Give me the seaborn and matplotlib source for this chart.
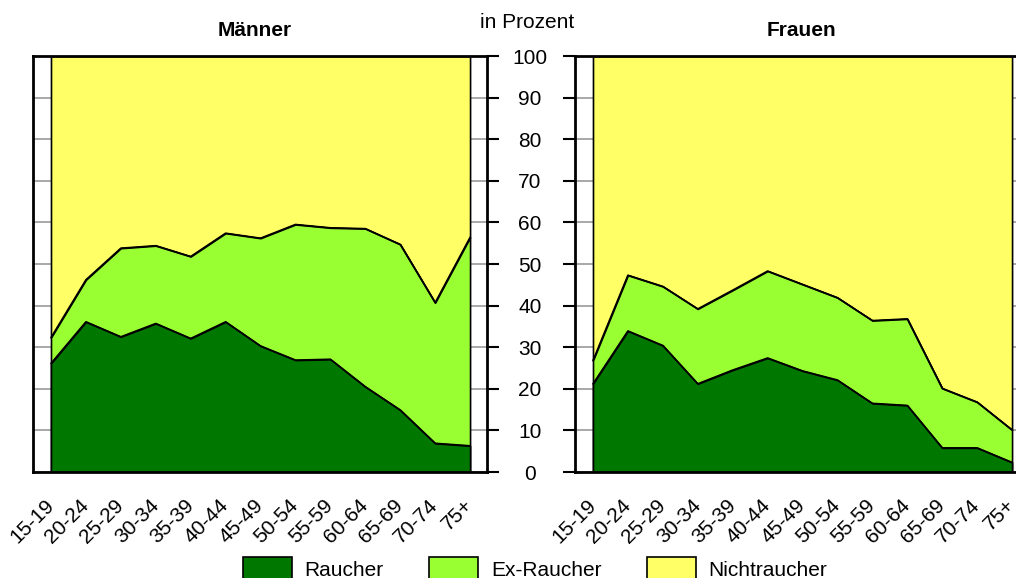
import numpy as np
import pandas as pd
import matplotlib
matplotlib.use("Agg")
import matplotlib.pyplot as plt
from matplotlib.patches import Patch
import seaborn as sns

# ---------------------------------------------------
# data (Anteile in Prozent)
# ---------------------------------------------------
age_groups = ["15-19", "20-24", "25-29", "30-34", "35-39", "40-44", "45-49",
              "50-54", "55-59", "60-64", "65-69", "70-74", "75+"]

# Männer
men_raucher = [26.1, 36.1, 32.5, 35.7, 32.1, 36.1, 30.3, 26.9, 27.1, 20.5, 14.9, 6.9, 6.3]
men_ex_cum = [32.3, 46.2, 53.8, 54.4, 51.8, 57.4, 56.2, 59.5, 58.7, 58.5, 54.7, 40.7, 56.4]

# Frauen
women_raucher = [21.2, 33.9, 30.4, 21.2, 24.5, 27.4, 24.3, 22.1, 16.5, 16.0, 5.8, 5.8, 2.3]
women_ex_cum = [26.8, 47.3, 44.6, 39.2, 43.7, 48.3, 45.1, 41.9, 36.4, 36.8, 20.1, 16.8, 10.1]

labels = ["Raucher", "Ex-Raucher", "Nichtraucher"]
colors = ["#007800", "#99FF33", "#FFFF66"]

sns.set_style("white")
plt.rcParams["font.family"] = ["Liberation Sans", "DejaVu Sans"]
plt.rcParams["font.size"] = 15
plt.rcParams["text.color"] = "black"
plt.rcParams["axes.labelcolor"] = "black"
plt.rcParams["xtick.color"] = "black"
plt.rcParams["ytick.color"] = "black"

fig = plt.figure(figsize=(10.16, 5.78), dpi=100)

W, H = 1016, 578
ax_w = 454 / W
ax_b = 1 - 472 / H
ax_h = 416 / H
ax_m = fig.add_axes([33 / W, ax_b, ax_w, ax_h])
ax_f = fig.add_axes([575 / W, ax_b, ax_w, ax_h])


def draw_panel(ax, raucher, ex_cum):
    x = np.arange(len(age_groups))
    df = pd.DataFrame({"x": np.concatenate([x, x]),
                       "y": np.concatenate([raucher, ex_cum]),
                       "grenze": ["r"] * len(x) + ["e"] * len(x)})
    # Flächen
    ax.fill_between(x, ex_cum, 100, facecolor=colors[2], edgecolor="black", lw=1.2, zorder=2)
    ax.fill_between(x, 0, ex_cum, facecolor=colors[1], edgecolor="black", lw=1.2, zorder=3)
    ax.fill_between(x, 0, raucher, facecolor=colors[0], edgecolor="black", lw=1.2, zorder=4)
    sns.lineplot(data=df, x="x", y="y", units="grenze", estimator=None,
                 color="black", lw=1.2, ax=ax, zorder=5, legend=False)

    ax.set_xlim(-0.515, 12.485)
    ax.set_ylim(0, 100)
    ax.set_yticks(range(0, 101, 10))
    ax.set_xticks(x)
    ax.set_xticklabels(age_groups, rotation=45, ha="right", va="center",
                       rotation_mode="anchor")
    ax.tick_params(axis="x", length=7.2, width=1.2, color="black", pad=14.5, labelsize=15)
    ax.yaxis.grid(True, color="#999999", lw=1.2, zorder=0)
    ax.set_axisbelow(True)
    ax.set_xlabel("")
    ax.set_ylabel("")
    for s in ax.spines.values():
        s.set_visible(True)
        s.set_color("black")
        s.set_linewidth(2)
        s.set_zorder(6)


draw_panel(ax_m, men_raucher, men_ex_cum)
draw_panel(ax_f, women_raucher, women_ex_cum)

# linke Grafik: Striche rechts ohne Beschriftung
ax_m.tick_params(axis="y", left=False, labelleft=False, right=True, labelright=False,
                 length=8.6, width=1.5, color="black")
# rechte Grafik: Striche links mit Beschriftung
ax_f.tick_params(axis="y", left=True, labelleft=True, right=False, labelright=False,
                 length=8.6, width=1.5, color="black", pad=23.8, labelsize=15)
for t in ax_f.get_yticklabels():
    t.set_horizontalalignment("center")

fig.text(255 / W, 1 - 31 / H, "Männer", ha="center", va="center", fontsize=15, fontweight="bold")
fig.text(801 / W, 1 - 30 / H, "Frauen", ha="center", va="center", fontsize=15, fontweight="bold")
fig.text(527 / W, 1 - 22 / H, "in Prozent", ha="center", va="center", fontsize=15)

handles = [Patch(facecolor=c, edgecolor="black", lw=1.2) for c in colors]
fig.legend(handles, labels, loc="upper left", bbox_to_anchor=(243 / W, 1 - 557 / H),
           ncol=3, frameon=False, fontsize=15, borderpad=0, borderaxespad=0,
           handlelength=2.35, handleheight=1.35, handletextpad=0.6, columnspacing=2.2)

fig.savefig("out.png", dpi=100)
plt.close(fig)
